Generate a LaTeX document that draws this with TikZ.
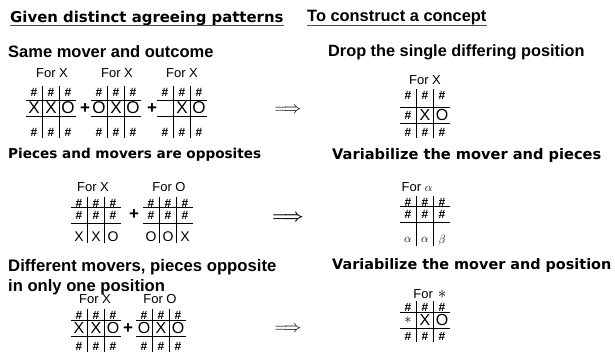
\documentclass[tikz,border=0pt]{standalone}
\usepackage{fontspec}
\newfontfamily\helvfont{Liberation Sans}
\newfontfamily\chicfont{DejaVu Sans}
\tikzset{
  helv/.style={font=\helvfont\bfseries\fontsize{#1}{#1}\selectfont, anchor=west, inner sep=0pt},
  chic/.style={font=\chicfont\bfseries\fontsize{#1}{#1}\selectfont, anchor=west, inner sep=0pt},
  forlbl/.style={font=\helvfont\fontsize{13}{13}\selectfont, inner sep=0pt},
  cell/.style={font=\helvfont\bfseries\fontsize{12}{12}\selectfont, inner sep=0pt},
  plus/.style={font=\helvfont\bfseries\fontsize{17}{17}\selectfont, inner sep=0pt},
  implies/.style={font=\fontsize{18}{18}\selectfont, inner sep=0pt},
  bimplies/.style={font=\boldmath\fontsize{18}{18}\selectfont, inner sep=0pt},
  grid/.style={line width=0.8pt},
  uline/.style={line width=1pt, black!70}
}
\newcommand{\pc}[2][16]{{\mdseries\fontsize{#1}{#1}\selectfont #2}}
% #1 name, #2 centre x, #3-#5 row y, #6-#8 cells
\newcommand{\board}[8]{%
  \foreach \lbl [count=\k] in {#6} \node[cell] (#1t\k) at (#2+17*\k-34,#3) {\lbl};
  \foreach \lbl [count=\k] in {#7} \node[cell] (#1m\k) at (#2+17*\k-34,#4) {\lbl};
  \foreach \lbl [count=\k] in {#8} \node[cell] (#1b\k) at (#2+17*\k-34,#5) {\lbl};
  \draw[grid] (#2-25,#4-8) -- (#2+25,#4-8);
  \draw[grid] (#2-25,#4+8) -- (#2+25,#4+8);
  \draw[grid] (#2-8.5,#3-6) -- (#2-8.5,#5+6);
  \draw[grid] (#2+8.5,#3-6) -- (#2+8.5,#5+6);
}

\begin{document}
\begin{tikzpicture}[x=1pt, y=-1pt]
  \useasboundingbox (0,0) rectangle (615,354);

  % headings
  \node[chic=14.9] (given) at (10,18) {Given distinct agreeing patterns};
  \node[helv=16.4] (construct) at (307,18) {To construct a concept};
  \draw[uline] (given.south west) -- (given.south east);
  \draw[uline] (construct.south west) -- (construct.south east);

  % same mover and outcome
  \node[helv=16.5] (same) at (8,52) {Same mover and outcome};
  \node[helv=16.3] (drop) at (328,52) {Drop the single differing position};
  \node[forlbl] (for1) at (52,73) {For X};
  \node[forlbl] (for2) at (117,73) {For X};
  \node[forlbl] (for3) at (182,73) {For X};
  \board{a}{51}{92}{108}{132}{\#,\#,\#}{\pc[17]{X},\pc[17]{X},\pc[17]{O}}{\#,\#,\#}
  \board{b}{116}{92}{108}{132}{\#,\#,\#}{\pc[17]{O},\pc[17]{X},\pc[17]{O}}{\#,\#,\#}
  \board{c}{182}{92}{108}{132}{\#,\#,\#}{{},\pc[17]{X},\pc[17]{O}}{\#,\#,\#}
  \node[plus] (plus1) at (85,109) {+};
  \node[plus] (plus2) at (152,109) {+};
  \node[implies] (imp1) at (288,110) {$\Longrightarrow$};
  \node[forlbl] (for4) at (425,80) {For X};
  \board{d}{425}{95}{115}{132}{\#,\#,\#}{\#,\pc{X},\pc{O}}{\#,\#,\#}

  % opposites
  \node[chic=13.6] (pieces) at (8,155) {Pieces and movers are opposites};
  \node[chic=14.6] (varpieces) at (332,155) {Variabilize the mover and pieces};
  \node[forlbl] (for5) at (93,187) {For X};
  \node[forlbl] (for6) at (169,187) {For O};
  \board{e}{96}{203}{215}{237}{\#,\#,\#}{\#,\#,\#}{\pc[14]{X},\pc[14]{X},\pc[14]{O}}
  \board{f}{168}{203}{215}{237}{\#,\#,\#}{\#,\#,\#}{\pc[14]{O},\pc[14]{O},\pc[14]{X}}
  \node[plus] (plus3) at (134,215) {+};
  \node[bimplies] (imp2) at (288,218) {$\Longrightarrow$};
  \node[forlbl] (for7) at (417,187) {For $\alpha$};
  \board{g}{425}{202}{214}{240}{\#,\#,\#}{\#,\#,\#}{\pc[13]{$\alpha$},\pc[13]{$\alpha$},\pc[13]{$\beta$}}

  % one position
  \node[helv=16.7] (different) at (8,267) {Different movers, pieces opposite};
  \node[helv=16.6] (inonly) at (8,287) {in only one position};
  \node[chic=14.4] (varpos) at (332,266) {Variabilize the mover and position};
  \node[forlbl] (for8) at (95,299) {For X};
  \node[forlbl] (for9) at (160,299) {For O};
  \board{h}{96}{315}{328}{346}{\#,\#,\#}{\pc{X},\pc{X},\pc{O}}{\#,\#,\#}
  \board{i}{161}{315}{328}{346}{\#,\#,\#}{\pc{O},\pc{X},\pc{O}}{\#,\#,\#}
  \node[plus] (plus4) at (128,329) {+};
  \node[implies] (imp3) at (288,329) {$\Longrightarrow$};
  \node[forlbl] (for10) at (430,294) {For\hspace{5pt}\pc[17]{$\ast$}};
  \board{j}{425}{307}{320}{336}{\#,\#,\#}{\pc[14]{$\ast$},\pc{X},\pc{O}}{\#,\#,\#}
\end{tikzpicture}
\end{document}
